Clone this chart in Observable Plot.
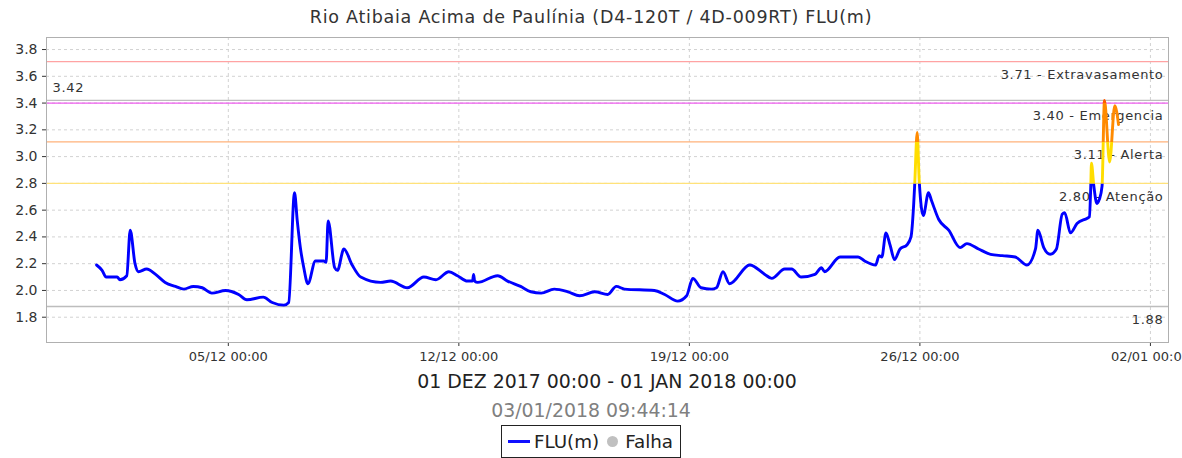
<!DOCTYPE html>
<html><head><meta charset="utf-8">
<script src="https://cdn.jsdelivr.net/npm/d3@7"></script>
<script src="https://cdn.jsdelivr.net/npm/@observablehq/plot@0.6"></script>
<style>
body{margin:0;background:#fff;font-family:"DejaVu Sans",sans-serif;width:1182px;overflow:hidden;}
#title{height:35px;line-height:35px;text-align:center;font-size:17.5px;letter-spacing:0.75px;color:#333;white-space:nowrap;}
#chart{height:332px;}
#sub{height:28px;line-height:28px;text-align:center;font-size:18.9px;color:#222;white-space:nowrap;padding-left:32px;}
#date{height:30px;line-height:30px;text-align:center;font-size:18.9px;color:#808080;white-space:nowrap;}
#legendWrap{text-align:center;height:33px;}
#legend{display:inline-flex;align-items:center;height:31px;border:1px solid #222;padding:0 7px 0 6px;font-size:18.3px;color:#222;box-sizing:content-box;}
#legend .ln{display:inline-block;width:22px;height:3px;background:#1010ff;margin-right:4px;}
#legend .dot{display:inline-block;width:11px;height:11px;border-radius:50%;background:#c0c0c0;margin:0 7px 0 8px;}
svg [aria-label^="y-axis"] text{font-size:14px;}
svg [aria-label^="x-axis"] text{font-size:13px;}
svg g[aria-label="text"] text{letter-spacing:0.68px;}
</style>
</head><body>
<div id="title">Rio Atibaia Acima de Paulínia (D4-120T / 4D-009RT) FLU(m)</div>
<div id="chart"></div>
<div id="sub">01 DEZ 2017 00:00 - 01 JAN 2018 00:00</div>
<div id="date">03/01/2018 09:44:14</div>
<div id="legendWrap"><div id="legend"><span class="ln"></span>FLU(m)<span class="dot"></span>Falha</div></div>
<script>
const times = [
"2017-12-01T00:00","2017-12-01T04:00","2017-12-01T07:00","2017-12-01T15:00","2017-12-01T17:00","2017-12-01T22:00",
"2017-12-02T00:30","2017-12-02T04:00","2017-12-02T06:30","2017-12-02T12:30","2017-12-02T19:00",
"2017-12-03T02:00","2017-12-03T09:30","2017-12-03T15:30","2017-12-03T22:30",
"2017-12-04T05:00","2017-12-04T12:00","2017-12-04T22:00",
"2017-12-05T07:30","2017-12-05T13:30",
"2017-12-06T01:30","2017-12-06T08:00","2017-12-06T16:30","2017-12-06T20:00",
"2017-12-07T00:15","2017-12-07T02:15","2017-12-07T04:30","2017-12-07T07:00","2017-12-07T10:00","2017-12-07T15:30","2017-12-07T21:30","2017-12-07T23:15",
"2017-12-08T00:45","2017-12-08T05:30","2017-12-08T07:30","2017-12-08T12:15","2017-12-08T18:15",
"2017-12-09T00:30","2017-12-09T15:00","2017-12-09T22:15",
"2017-12-10T10:30","2017-12-10T22:30",
"2017-12-11T07:15","2017-12-11T16:45","2017-12-11T23:00",
"2017-12-12T06:15","2017-12-12T10:00","2017-12-12T10:45","2017-12-12T11:30","2017-12-12T13:45",
"2017-12-13T04:15","2017-12-13T11:30","2017-12-13T21:00",
"2017-12-14T04:30","2017-12-14T12:00","2017-12-14T21:30",
"2017-12-15T07:30","2017-12-15T16:00",
"2017-12-16T03:00","2017-12-16T12:30","2017-12-16T18:45",
"2017-12-17T00:45","2017-12-17T22:30",
"2017-12-18T06:00","2017-12-18T15:30","2017-12-18T22:00",
"2017-12-19T02:30","2017-12-19T08:30","2017-12-19T16:00","2017-12-19T19:45",
"2017-12-20T00:30","2017-12-20T05:15","2017-12-20T20:00",
"2017-12-21T07:00","2017-12-21T12:00","2017-12-21T21:30",
"2017-12-22T02:30","2017-12-22T09:30","2017-12-22T19:30",
"2017-12-23T00:15","2017-12-23T02:30","2017-12-23T13:45",
"2017-12-24T03:00","2017-12-24T07:45","2017-12-24T15:45","2017-12-24T18:15","2017-12-24T20:15","2017-12-24T23:15",
"2017-12-25T02:15","2017-12-25T05:30","2017-12-25T09:30","2017-12-25T14:30","2017-12-25T17:30","2017-12-25T19:30","2017-12-25T20:15","2017-12-25T22:00","2017-12-25T23:30",
"2017-12-26T02:30","2017-12-26T06:15","2017-12-26T08:30","2017-12-26T13:45","2017-12-26T21:00",
"2017-12-27T05:15","2017-12-27T10:15","2017-12-27T18:45",
"2017-12-28T03:30","2017-12-28T12:00","2017-12-28T21:30",
"2017-12-29T06:00","2017-12-29T12:15","2017-12-29T14:00","2017-12-29T18:15","2017-12-29T23:00",
"2017-12-30T03:30","2017-12-30T07:45","2017-12-30T09:30","2017-12-30T13:45","2017-12-30T18:30",
"2017-12-31T02:00","2017-12-31T03:30","2017-12-31T04:30","2017-12-31T05:00","2017-12-31T06:45","2017-12-31T09:00","2017-12-31T10:45","2017-12-31T12:45","2017-12-31T14:30","2017-12-31T18:15","2017-12-31T22:00",
"2018-01-01T00:45"
];
const levels = [
2.19,2.15,2.10,2.10,2.08,2.11,
2.45,2.20,2.14,2.16,2.12,
2.06,2.03,2.01,2.03,
2.02,1.98,2.00,
1.97,1.93,
1.95,1.91,1.89,1.91,
2.73,2.52,2.32,2.17,2.05,2.22,2.22,2.21,
2.52,2.17,2.15,2.31,2.19,
2.10,2.06,2.07,
2.02,2.10,
2.08,2.14,2.11,
2.07,2.07,2.12,2.07,2.06,
2.11,2.07,2.03,
1.99,1.98,2.01,
1.99,1.96,
1.99,1.97,2.03,
2.01,2.00,
1.97,1.92,1.96,
2.09,2.02,2.01,2.02,
2.14,2.05,2.19,
2.12,2.09,2.16,
2.16,2.10,2.12,
2.17,2.14,2.25,
2.25,2.22,2.19,2.26,2.25,2.43,
2.34,2.23,2.31,2.34,2.40,2.65,2.80,3.18,2.82,
2.56,2.73,2.67,2.53,2.45,
2.32,2.35,2.31,
2.27,2.26,2.25,
2.19,2.31,2.45,2.32,2.27,
2.31,2.57,2.58,2.43,2.50,
2.54,2.55,2.77,2.95,2.78,2.65,2.68,2.78,3.42,2.96,3.38,
3.24
];
const thresholdValues = [3.71, 3.40, 3.11, 2.80];
const thresholdNames = ["Extravasamento", "Emergencia", "Alerta", "Atenção"];
const thresholdColors = ["#ffa3a3", "#ee5cee", "#ffb27a", "#ffe27a"];
const maxLevel = 3.42;
const minLevel = 1.88;
const yTicks = [1.8, 2.0, 2.2, 2.4, 2.6, 2.8, 3.0, 3.2, 3.4, 3.6, 3.8];
const xTickLabels = ["2017-12-05T00:00", "2017-12-12T00:00", "2017-12-19T00:00", "2017-12-26T00:00", "2018-01-02T00:00"];
const xDomain = ["2017-11-29T11:30", "2018-01-02T13:10"];
const yDomain = [1.611, 3.89];
// line colour per level band: below 2.80, 2.80–3.11, 3.11–3.40, above 3.40
const bandColors = ["#0000ff", "#ffdd00", "#ff8a00", "#ff5a00"];

const utc = s => new Date(s + "Z");
const data = times.map((t, i) => ({t: utc(t), v: levels[i]}));
const xTicks = xTickLabels.map(utc);
const xd = xDomain.map(utc);

const grid = {stroke: "#d2d2d2", strokeDasharray: "3,3", strokeWidth: 1};
const marks = [
  Plot.ruleY(yTicks, grid),
  Plot.ruleX(xTicks, grid),
  ...thresholdValues.map((t, i) => Plot.ruleY([t], {stroke: thresholdColors[i], strokeWidth: 1.3})),
  Plot.ruleY([maxLevel, minLevel], {stroke: "#bdbdbd", strokeWidth: 1.3}),
  Plot.text(thresholdValues, {x: xd[1], y: d => d, text: (d, i) => `${d.toFixed(2)} - ${thresholdNames[i]}`,
    textAnchor: "end", dx: -5, dy: 13, fill: "#333", fontSize: 13}),
  Plot.text([maxLevel], {x: xd[0], y: d => d, text: d => d.toFixed(2), textAnchor: "start", dx: 6, dy: -13, fill: "#333", fontSize: 13}),
  Plot.text([minLevel], {x: xd[1], y: d => d, text: d => d.toFixed(2), textAnchor: "end", dx: -5, dy: 13, fill: "#333", fontSize: 13}),
  ...bandColors.map(c => Plot.line(data, {x: "t", y: "v", stroke: c, strokeWidth: 2.9, strokeLinejoin: "round", curve: "monotone-x"})),
  Plot.frame({stroke: "#b0b0b0"})
];

const plot = Plot.plot({
  width: 1182, height: 332,
  marginLeft: 46, marginRight: 14, marginTop: 2, marginBottom: 25,
  style: {fontFamily: "DejaVu Sans, sans-serif", color: "#333", background: "#fff", overflow: "visible"},
  x: {type: "utc", domain: xd, ticks: xTicks, tickFormat: d3.utcFormat("%d/%m %H:%M"), tickSize: 4, label: null},
  y: {domain: yDomain, ticks: yTicks, tickFormat: d3.format(".1f"), tickSize: 4, label: null},
  marks
});
document.getElementById("chart").appendChild(plot);

// clip each coloured copy of the line to its level band, using the plot's own y scale
const ys = plot.scale("y");
const yPix = v => ys.apply(v);
const ns = "http://www.w3.org/2000/svg";
const defs = document.createElementNS(ns, "defs");
plot.insertBefore(defs, plot.firstChild);
const bounds = [yDomain[0], 2.80, 3.11, 3.40, yDomain[1]];
const lineGroups = plot.querySelectorAll('g[aria-label="line"]');
lineGroups.forEach((g, i) => {
  const cp = document.createElementNS(ns, "clipPath");
  cp.setAttribute("id", "band" + i);
  const r = document.createElementNS(ns, "rect");
  const y0 = i === 0 ? 400 : yPix(bounds[i]);
  const y1 = i === bandColors.length - 1 ? -50 : yPix(bounds[i + 1]);
  r.setAttribute("x", 0); r.setAttribute("width", 1182);
  r.setAttribute("y", Math.min(y0, y1)); r.setAttribute("height", Math.abs(y0 - y1));
  cp.appendChild(r); defs.appendChild(cp);
  g.setAttribute("clip-path", "url(#band" + i + ")");
});
</script>
</body></html>
